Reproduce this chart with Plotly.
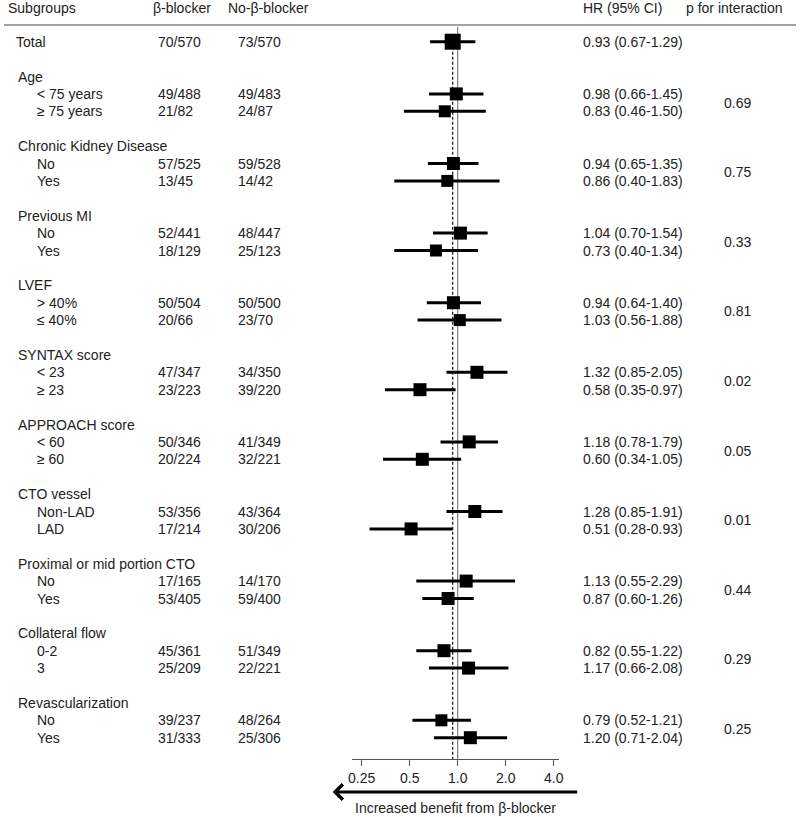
import plotly.graph_objects as go

# ---------------- data ----------------
total_label = "Total"
total_bb = "70/570"
total_nobb = "73/570"
total_hr = 0.93
total_lo = 0.67
total_hi = 1.29

group_names = ["Age", "Chronic Kidney Disease", "Previous MI", "LVEF", "SYNTAX score",
               "APPROACH score", "CTO vessel", "Proximal or mid portion CTO",
               "Collateral flow", "Revascularization"]
sub_labels = [["< 75 years", "≥ 75 years"], ["No", "Yes"], ["No", "Yes"],
              ["> 40%", "≤ 40%"], ["< 23", "≥ 23"], ["< 60", "≥ 60"],
              ["Non-LAD", "LAD"], ["No", "Yes"], ["0-2", "3"], ["No", "Yes"]]
bb_counts = [["49/488", "21/82"], ["57/525", "13/45"], ["52/441", "18/129"],
             ["50/504", "20/66"], ["47/347", "23/223"], ["50/346", "20/224"],
             ["53/356", "17/214"], ["17/165", "53/405"], ["45/361", "25/209"],
             ["39/237", "31/333"]]
nobb_counts = [["49/483", "24/87"], ["59/528", "14/42"], ["48/447", "25/123"],
               ["50/500", "23/70"], ["34/350", "39/220"], ["41/349", "32/221"],
               ["43/364", "30/206"], ["14/170", "59/400"], ["51/349", "22/221"],
               ["48/264", "25/306"]]
hr = [[0.98, 0.83], [0.94, 0.86], [1.04, 0.73], [0.94, 1.03], [1.32, 0.58],
      [1.18, 0.60], [1.28, 0.51], [1.13, 0.87], [0.82, 1.17], [0.79, 1.20]]
hr_lo = [[0.66, 0.46], [0.65, 0.40], [0.70, 0.40], [0.64, 0.56], [0.85, 0.35],
         [0.78, 0.34], [0.85, 0.28], [0.55, 0.60], [0.55, 0.66], [0.52, 0.71]]
hr_hi = [[1.45, 1.50], [1.35, 1.83], [1.54, 1.34], [1.40, 1.88], [2.05, 0.97],
         [1.79, 1.05], [1.91, 0.93], [2.29, 1.26], [1.22, 2.08], [1.21, 2.04]]
p_inter = ["0.69", "0.75", "0.33", "0.81", "0.02", "0.05", "0.01", "0.44", "0.29", "0.25"]
box_sizes = [[13, 12], [13, 12], [13, 12], [13, 12], [13, 13],
             [13, 13], [13, 13], [13, 13], [13, 13], [12, 13]]
total_box = 16

tick_vals = [0.25, 0.5, 1.0, 2.0, 4.0]
tick_text = ["0.25", "0.5", "1.0", "2.0", "4.0"]
headers = ["Subgroups", "β-blocker", "No-β-blocker", "HR (95% CI)", "p for interaction"]
x_label = "Increased benefit from β-blocker"

# ---------------- layout helpers ----------------
W, H = 800, 817
ROW0_PX = 41.7      # pixel y of row 0
ROW_PX = 17.4       # pixels per row


def row_of_px(py):
    return (py - ROW0_PX) / ROW_PX


def px(xp):
    return xp / W


y_top = row_of_px(0)
y_bot = row_of_px(H)

FONT = dict(family="Liberation Sans, Arial, sans-serif", size=14, color="#222")

# x axis (log) geometry in pixels: 1.0 at 458.3 px, 161.1 px per decade
X1_PX = 458.3
DEC_PX = 161.1
AX_L, AX_R = 352, 561
xr = [(AX_L - X1_PX) / DEC_PX, (AX_R - X1_PX) / DEC_PX]
axis_y_px = 759.3

fig = go.Figure()

ci_x, ci_y, pt_x, pt_y, pt_s = [], [], [], [], []
ann = []


def text(x_px, row, s, anchor="left"):
    ann.append(dict(x=px(x_px), xref="paper", y=row, yref="y", text=s,
                    showarrow=False, xanchor=anchor, yanchor="middle", font=FONT,
                    borderpad=0))


# headers
hx = [3, 149, 225, 584, 688]
for xx, s in zip(hx, headers):
    text(xx, row_of_px(8), s)

# total
text(11, 0, total_label)
text(155, 0, total_bb)
text(235, 0, total_nobb)
text(584, 0, f"{total_hr:.2f} ({total_lo:.2f}-{total_hi:.2f})")
ci_x += [total_lo, total_hi, None]
ci_y += [0, 0, None]
pt_x.append(total_hr); pt_y.append(0); pt_s.append(total_box)

for g, name in enumerate(group_names):
    hrow = 2 + 4 * g
    text(13, hrow, name)
    for k in range(2):
        r = hrow + 1 + k
        text(32, r, sub_labels[g][k])
        text(155, r, bb_counts[g][k])
        text(235, r, nobb_counts[g][k])
        text(584, r, f"{hr[g][k]:.2f} ({hr_lo[g][k]:.2f}-{hr_hi[g][k]:.2f})")
        ci_x += [hr_lo[g][k], hr_hi[g][k], None]
        ci_y += [r, r, None]
        pt_x.append(hr[g][k]); pt_y.append(r); pt_s.append(box_sizes[g][k])
    text(726, hrow + 1.5, p_inter[g])

axis_row = row_of_px(axis_y_px)

# reference lines
fig.add_trace(go.Scatter(x=[1.0, 1.0], y=[row_of_px(27), axis_row], mode="lines",
                         line=dict(color="#666", width=1), hoverinfo="skip",
                         showlegend=False, cliponaxis=False))
fig.add_trace(go.Scatter(x=[total_hr, total_hr], y=[0, axis_row], mode="lines",
                         line=dict(color="#111", width=1.2, dash="3px,2px"),
                         hoverinfo="skip", showlegend=False, cliponaxis=False))
# CIs
fig.add_trace(go.Scatter(x=ci_x, y=ci_y, mode="lines", line=dict(color="black", width=3),
                         hoverinfo="skip", showlegend=False, cliponaxis=False))
# boxes
fig.add_trace(go.Scatter(x=pt_x, y=pt_y, mode="markers",
                         marker=dict(symbol="square", size=pt_s, color="black",
                                     line=dict(width=0), opacity=1),
                         hoverinfo="skip", showlegend=False, cliponaxis=False))

# header rule
shapes = [dict(type="line", xref="paper", yref="y", x0=0, x1=1,
               y0=row_of_px(25), y1=row_of_px(25), line=dict(color="#444", width=1))]

# arrow
ann.append(dict(x=px(332), xref="paper", y=row_of_px(792), yref="y", ax=246, ay=0,
                axref="pixel", ayref="pixel", text="", showarrow=True,
                arrowhead=4, arrowsize=1.0, arrowwidth=3, arrowcolor="black"))
# x label
ann.append(dict(x=px(456), xref="paper", y=row_of_px(808), yref="y", text=x_label,
                showarrow=False, xanchor="center", yanchor="middle", font=FONT,
                borderpad=0))

fig.update_layout(
    width=W, height=H, margin=dict(l=0, r=0, t=0, b=0),
    paper_bgcolor="white", plot_bgcolor="white",
    xaxis=dict(type="log", domain=[px(AX_L), px(AX_R)], range=xr,
               showline=True, linecolor="#555", linewidth=1,
               ticks="outside", ticklen=6, tickcolor="#555", tickwidth=1,
               tickvals=tick_vals, ticktext=tick_text, tickfont=FONT,
               showgrid=False, zeroline=False, anchor="free",
               position=(H - axis_y_px) / H, fixedrange=True),
    yaxis=dict(range=[y_bot, y_top], visible=False, domain=[0, 1], fixedrange=True),
    annotations=ann, shapes=shapes, showlegend=False, hovermode=False,
)

# remove the default 8px page margin so the figure fills the window exactly
fig.write_html("out.html", config={"displayModeBar": False},
               post_script="document.body.style.margin='0px';")
